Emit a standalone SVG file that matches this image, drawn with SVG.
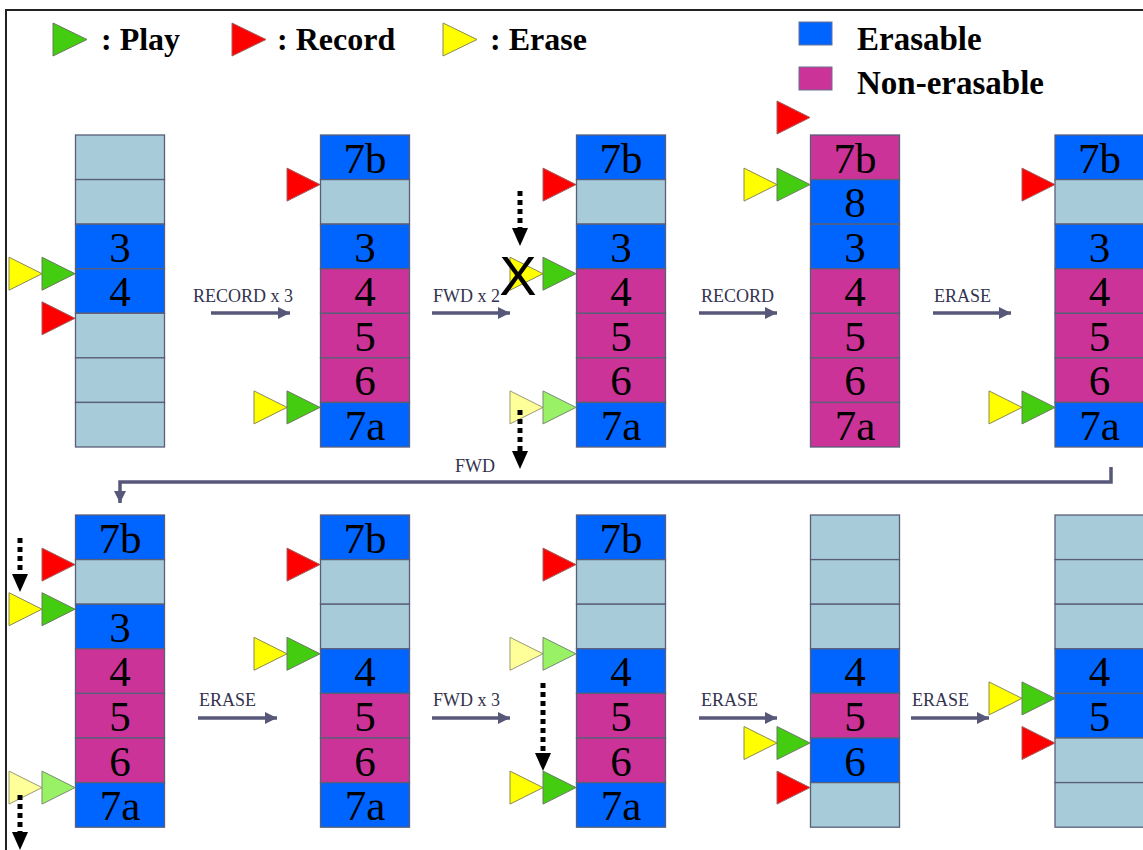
<svg xmlns="http://www.w3.org/2000/svg" xmlns:xlink="http://www.w3.org/1999/xlink" width="1143" height="850" viewBox="0 0 1143 850">
<style>
.lb{fill:#a7cbd9;stroke:#5a5f78;stroke-width:1.3}
.bl{fill:#0064ff;stroke:#5a5f78;stroke-width:1.3}
.mg{fill:#cc3399;stroke:#5a5f78;stroke-width:1.3}
.num{font-family:"Liberation Serif","Times New Roman",serif;font-size:43px;fill:#000;text-anchor:middle}
.g{fill:#44cc11;stroke:#6a7a60;stroke-width:1}
.lg{fill:#99f266;stroke:#7a8a70;stroke-width:1}
.r{fill:#ff0000;stroke:#a06060;stroke-width:1}
.y{fill:#ffff00;stroke:#8a8a50;stroke-width:1}
.ly{fill:#ffff99;stroke:#9a9a70;stroke-width:1}
.leg{font-family:"Liberation Serif","Times New Roman",serif;font-size:32px;font-weight:bold;fill:#000}
.leg2{font-family:"Liberation Serif","Times New Roman",serif;font-size:33px;font-weight:bold;fill:#000}
.op{font-family:"Liberation Serif","Times New Roman",serif;font-size:18px;fill:#33334f}
.conn{stroke:#575779;stroke-width:3.5;fill:none}
.dot{stroke:#000;stroke-width:5;stroke-dasharray:5 4;fill:none}
</style>
<defs>
<path id="tri" d="M-33,-16.5 L0,0 L-33,16.5 Z"/>
<marker id="ah" markerUnits="userSpaceOnUse" markerWidth="14" markerHeight="12" refX="12" refY="6" orient="auto">
<path d="M0,0 L12,6 L0,12 Z" fill="#575779"/>
</marker>
</defs>
<rect width="1143" height="850" fill="#fff"/>
<rect x="6" y="10" width="1200" height="900" fill="none" stroke="#222" stroke-width="2"/>

<g id="legend">
<path class="g" d="M53,23 L87,39.5 L53,56 Z"/>
<text class="leg" x="101" y="50">: Play</text>
<path class="r" d="M232,23 L266,39.5 L232,56 Z"/>
<text class="leg" x="277" y="50">: Record</text>
<path class="y" d="M443,23 L477,39.5 L443,56 Z"/>
<text class="leg" x="490" y="50">: Erase</text>
<rect x="799" y="22" width="33" height="23" fill="#0064ff" stroke="#6a7090" stroke-width="1"/>
<text class="leg2" x="857" y="50">Erasable</text>
<rect x="799" y="67" width="33" height="23" fill="#cc3399" stroke="#6a7090" stroke-width="1"/>
<text class="leg2" x="857" y="94">Non-erasable</text>
</g>

<g id="state1">
<rect class="lb" x="75.5" y="135" width="89" height="44.57"/>
<rect class="lb" x="75.5" y="179.57" width="89" height="44.57"/>
<rect class="bl" x="75.5" y="224.14" width="89" height="44.57"/>
<rect class="bl" x="75.5" y="268.71" width="89" height="44.57"/>
<rect class="lb" x="75.5" y="313.29" width="89" height="44.57"/>
<rect class="lb" x="75.5" y="357.86" width="89" height="44.57"/>
<rect class="lb" x="75.5" y="402.43" width="89" height="44.57"/>
<text class="num" x="120" y="261.6">3</text>
<text class="num" x="120" y="306.2">4</text>
<use xlink:href="#tri" class="y" x="42" y="273.7"/>
<use xlink:href="#tri" class="g" x="75" y="273.7"/>
<use xlink:href="#tri" class="r" x="75" y="318.3"/>
</g>

<g id="state2">
<rect class="bl" x="320.5" y="135" width="89" height="44.57"/>
<rect class="lb" x="320.5" y="179.57" width="89" height="44.57"/>
<rect class="bl" x="320.5" y="224.14" width="89" height="44.57"/>
<rect class="mg" x="320.5" y="268.71" width="89" height="44.57"/>
<rect class="mg" x="320.5" y="313.29" width="89" height="44.57"/>
<rect class="mg" x="320.5" y="357.86" width="89" height="44.57"/>
<rect class="bl" x="320.5" y="402.43" width="89" height="44.57"/>
<text class="num" x="365" y="172.5">7b</text>
<text class="num" x="365" y="261.6">3</text>
<text class="num" x="365" y="306.2">4</text>
<text class="num" x="365" y="350.8">5</text>
<text class="num" x="365" y="395.4">6</text>
<text class="num" x="365" y="439.9">7a</text>
<use xlink:href="#tri" class="r" x="320" y="184.6"/>
<use xlink:href="#tri" class="y" x="287" y="407.4"/>
<use xlink:href="#tri" class="g" x="320" y="407.4"/>
</g>

<g id="state3">
<rect class="bl" x="576.5" y="135" width="89" height="44.57"/>
<rect class="lb" x="576.5" y="179.57" width="89" height="44.57"/>
<rect class="bl" x="576.5" y="224.14" width="89" height="44.57"/>
<rect class="mg" x="576.5" y="268.71" width="89" height="44.57"/>
<rect class="mg" x="576.5" y="313.29" width="89" height="44.57"/>
<rect class="mg" x="576.5" y="357.86" width="89" height="44.57"/>
<rect class="bl" x="576.5" y="402.43" width="89" height="44.57"/>
<text class="num" x="621" y="172.5">7b</text>
<text class="num" x="621" y="261.6">3</text>
<text class="num" x="621" y="306.2">4</text>
<text class="num" x="621" y="350.8">5</text>
<text class="num" x="621" y="395.4">6</text>
<text class="num" x="621" y="439.9">7a</text>
<use xlink:href="#tri" class="r" x="576" y="184.6"/>
<use xlink:href="#tri" class="y" x="543" y="273.7"/>
<use xlink:href="#tri" class="g" x="576" y="273.7"/>
<use xlink:href="#tri" class="ly" x="543" y="407.4"/>
<use xlink:href="#tri" class="lg" x="576" y="407.4"/>
<text x="518" y="295" font-family="Liberation Sans, Arial, sans-serif" font-size="56" text-anchor="middle" fill="#000">X</text>
</g>

<g id="state4">
<rect class="mg" x="810.5" y="135" width="89" height="44.57"/>
<rect class="bl" x="810.5" y="179.57" width="89" height="44.57"/>
<rect class="bl" x="810.5" y="224.14" width="89" height="44.57"/>
<rect class="mg" x="810.5" y="268.71" width="89" height="44.57"/>
<rect class="mg" x="810.5" y="313.29" width="89" height="44.57"/>
<rect class="mg" x="810.5" y="357.86" width="89" height="44.57"/>
<rect class="mg" x="810.5" y="402.43" width="89" height="44.57"/>
<text class="num" x="855" y="172.5">7b</text>
<text class="num" x="855" y="217.1">8</text>
<text class="num" x="855" y="261.6">3</text>
<text class="num" x="855" y="306.2">4</text>
<text class="num" x="855" y="350.8">5</text>
<text class="num" x="855" y="395.4">6</text>
<text class="num" x="855" y="439.9">7a</text>
<use xlink:href="#tri" class="r" x="810" y="117.5"/>
<use xlink:href="#tri" class="y" x="777" y="184.6"/>
<use xlink:href="#tri" class="g" x="810" y="184.6"/>
</g>

<g id="state5">
<rect class="bl" x="1055" y="135" width="89" height="44.57"/>
<rect class="lb" x="1055" y="179.57" width="89" height="44.57"/>
<rect class="bl" x="1055" y="224.14" width="89" height="44.57"/>
<rect class="mg" x="1055" y="268.71" width="89" height="44.57"/>
<rect class="mg" x="1055" y="313.29" width="89" height="44.57"/>
<rect class="mg" x="1055" y="357.86" width="89" height="44.57"/>
<rect class="bl" x="1055" y="402.43" width="89" height="44.57"/>
<text class="num" x="1099.5" y="172.5">7b</text>
<text class="num" x="1099.5" y="261.6">3</text>
<text class="num" x="1099.5" y="306.2">4</text>
<text class="num" x="1099.5" y="350.8">5</text>
<text class="num" x="1099.5" y="395.4">6</text>
<text class="num" x="1099.5" y="439.9">7a</text>
<use xlink:href="#tri" class="r" x="1055" y="184.6"/>
<use xlink:href="#tri" class="y" x="1022" y="407.4"/>
<use xlink:href="#tri" class="g" x="1055" y="407.4"/>
</g>

<g id="state6">
<rect class="bl" x="75.5" y="515" width="89" height="44.6"/>
<rect class="lb" x="75.5" y="559.6" width="89" height="44.6"/>
<rect class="bl" x="75.5" y="604.2" width="89" height="44.6"/>
<rect class="mg" x="75.5" y="648.8" width="89" height="44.6"/>
<rect class="mg" x="75.5" y="693.4" width="89" height="44.6"/>
<rect class="mg" x="75.5" y="738" width="89" height="44.6"/>
<rect class="bl" x="75.5" y="782.6" width="89" height="44.6"/>
<text class="num" x="120" y="552.5">7b</text>
<text class="num" x="120" y="641.7">3</text>
<text class="num" x="120" y="686.3">4</text>
<text class="num" x="120" y="730.9">5</text>
<text class="num" x="120" y="775.5">6</text>
<text class="num" x="120" y="820.1">7a</text>
<use xlink:href="#tri" class="r" x="75" y="564.6"/>
<use xlink:href="#tri" class="y" x="42" y="609.2"/>
<use xlink:href="#tri" class="g" x="75" y="609.2"/>
<use xlink:href="#tri" class="ly" x="42" y="787.6"/>
<use xlink:href="#tri" class="lg" x="75" y="787.6"/>
</g>

<g id="state7">
<rect class="bl" x="320.5" y="515" width="89" height="44.6"/>
<rect class="lb" x="320.5" y="559.6" width="89" height="44.6"/>
<rect class="lb" x="320.5" y="604.2" width="89" height="44.6"/>
<rect class="bl" x="320.5" y="648.8" width="89" height="44.6"/>
<rect class="mg" x="320.5" y="693.4" width="89" height="44.6"/>
<rect class="mg" x="320.5" y="738" width="89" height="44.6"/>
<rect class="bl" x="320.5" y="782.6" width="89" height="44.6"/>
<text class="num" x="365" y="552.5">7b</text>
<text class="num" x="365" y="686.3">4</text>
<text class="num" x="365" y="730.9">5</text>
<text class="num" x="365" y="775.5">6</text>
<text class="num" x="365" y="820.1">7a</text>
<use xlink:href="#tri" class="r" x="320" y="564.6"/>
<use xlink:href="#tri" class="y" x="287" y="653.8"/>
<use xlink:href="#tri" class="g" x="320" y="653.8"/>
</g>

<g id="state8">
<rect class="bl" x="576.5" y="515" width="89" height="44.6"/>
<rect class="lb" x="576.5" y="559.6" width="89" height="44.6"/>
<rect class="lb" x="576.5" y="604.2" width="89" height="44.6"/>
<rect class="bl" x="576.5" y="648.8" width="89" height="44.6"/>
<rect class="mg" x="576.5" y="693.4" width="89" height="44.6"/>
<rect class="mg" x="576.5" y="738" width="89" height="44.6"/>
<rect class="bl" x="576.5" y="782.6" width="89" height="44.6"/>
<text class="num" x="621" y="552.5">7b</text>
<text class="num" x="621" y="686.3">4</text>
<text class="num" x="621" y="730.9">5</text>
<text class="num" x="621" y="775.5">6</text>
<text class="num" x="621" y="820.1">7a</text>
<use xlink:href="#tri" class="r" x="576" y="564.6"/>
<use xlink:href="#tri" class="ly" x="543" y="653.8"/>
<use xlink:href="#tri" class="lg" x="576" y="653.8"/>
<use xlink:href="#tri" class="y" x="543" y="787.6"/>
<use xlink:href="#tri" class="g" x="576" y="787.6"/>
</g>

<g id="state9">
<rect class="lb" x="810.5" y="515" width="89" height="44.6"/>
<rect class="lb" x="810.5" y="559.6" width="89" height="44.6"/>
<rect class="lb" x="810.5" y="604.2" width="89" height="44.6"/>
<rect class="bl" x="810.5" y="648.8" width="89" height="44.6"/>
<rect class="mg" x="810.5" y="693.4" width="89" height="44.6"/>
<rect class="bl" x="810.5" y="738" width="89" height="44.6"/>
<rect class="lb" x="810.5" y="782.6" width="89" height="44.6"/>
<text class="num" x="855" y="686.3">4</text>
<text class="num" x="855" y="730.9">5</text>
<text class="num" x="855" y="775.5">6</text>
<use xlink:href="#tri" class="y" x="777" y="743"/>
<use xlink:href="#tri" class="g" x="810" y="743"/>
<use xlink:href="#tri" class="r" x="810" y="787.6"/>
</g>

<g id="state10">
<rect class="lb" x="1055" y="515" width="89" height="44.6"/>
<rect class="lb" x="1055" y="559.6" width="89" height="44.6"/>
<rect class="lb" x="1055" y="604.2" width="89" height="44.6"/>
<rect class="bl" x="1055" y="648.8" width="89" height="44.6"/>
<rect class="bl" x="1055" y="693.4" width="89" height="44.6"/>
<rect class="lb" x="1055" y="738" width="89" height="44.6"/>
<rect class="lb" x="1055" y="782.6" width="89" height="44.6"/>
<text class="num" x="1099.5" y="686.3">4</text>
<text class="num" x="1099.5" y="730.9">5</text>
<use xlink:href="#tri" class="y" x="1022" y="698.4"/>
<use xlink:href="#tri" class="g" x="1055" y="698.4"/>
<use xlink:href="#tri" class="r" x="1055" y="743"/>
</g>

<g id="connectors">
<text class="op" x="193" y="302">RECORD x 3</text>
<line class="conn" x1="211" y1="313" x2="290" y2="313" marker-end="url(#ah)"/>
<text class="op" x="433" y="302">FWD x 2</text>
<line class="conn" x1="432" y1="313" x2="510" y2="313" marker-end="url(#ah)"/>
<text class="op" x="701" y="302">RECORD</text>
<line class="conn" x1="699" y1="313" x2="777" y2="313" marker-end="url(#ah)"/>
<text class="op" x="934" y="302">ERASE</text>
<line class="conn" x1="933" y1="313" x2="1011" y2="313" marker-end="url(#ah)"/>
<text class="op" x="455" y="472">FWD</text>
<path class="conn" d="M1111,467 V482 H120 V503" marker-end="url(#ah)"/>
<text class="op" x="199" y="706">ERASE</text>
<line class="conn" x1="198" y1="718" x2="277" y2="718" marker-end="url(#ah)"/>
<text class="op" x="433" y="706">FWD x 3</text>
<line class="conn" x1="432" y1="718" x2="510" y2="718" marker-end="url(#ah)"/>
<text class="op" x="701" y="706">ERASE</text>
<line class="conn" x1="699" y1="718" x2="777" y2="718" marker-end="url(#ah)"/>
<text class="op" x="912" y="706">ERASE</text>
<line class="conn" x1="911" y1="718" x2="989" y2="718" marker-end="url(#ah)"/>

<line class="dot" x1="520" y1="191" x2="520" y2="229"/>
<path d="M512,228 L528,228 L520,246 Z" fill="#000"/>
<line class="dot" x1="520" y1="410" x2="520" y2="452"/>
<path d="M512,451 L528,451 L520,469 Z" fill="#000"/>
<line class="dot" x1="20" y1="538" x2="20" y2="575"/>
<path d="M12,574 L28,574 L20,592 Z" fill="#000"/>
<line class="dot" x1="20" y1="795" x2="20" y2="833"/>
<path d="M12,832 L28,832 L20,850 Z" fill="#000"/>
<line class="dot" x1="543" y1="683" x2="543" y2="754"/>
<path d="M535,753 L551,753 L543,771 Z" fill="#000"/>
</g>
</svg>
